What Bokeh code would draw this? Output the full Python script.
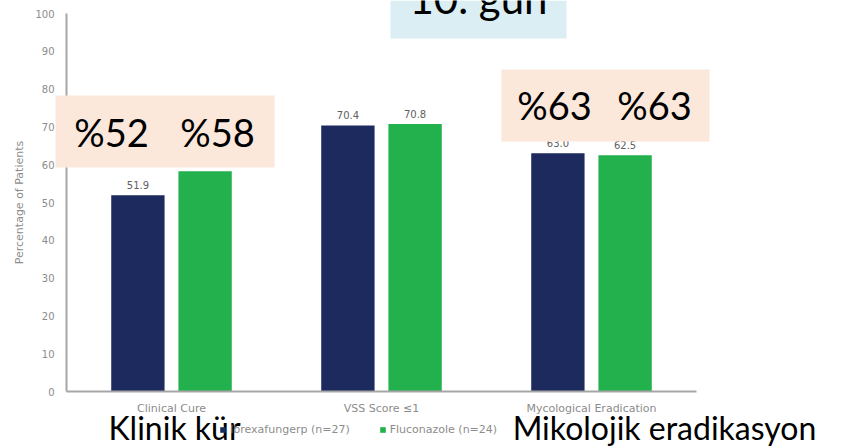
from bokeh.plotting import figure
from bokeh.models import (ColumnDataSource, Range1d, FixedTicker, Label,
                          BoxAnnotation, Legend, LegendItem)
from bokeh.transform import dodge
from bokeh.embed import file_html
from bokeh.resources import INLINE

# ---------------- data ----------------
categories = ["Clinical Cure", "VSS Score ≤1", "Mycological Eradication"]
category_pos = [0.5, 1.5, 2.5]
ibrexafungerp = [51.9, 70.4, 63.0]
fluconazole = [58.3, 70.8, 62.5]
ibrex_labels = ["51.9", "70.4", "63.0"]
fluco_labels = ["58.3", "70.8", "62.5"]
y_ticks = [0, 10, 20, 30, 40, 50, 60, 70, 80, 90, 100]
series_names = ["Ibrexafungerp (n=27)", "Fluconazole (n=24)"]
y_axis_title = "Percentage of Patients"
title_text = "10. gün"
box1_texts = ["%52", "%58"]
box2_texts = ["%63", "%63"]
caption_left = "Klinik kür"
caption_right = "Mikolojik eradikasyon"

# ---------------- layout ----------------
W, H = 850, 447
AX_L, AX_B, AX_T = 66, 391, 13        # pixel positions of x=0, y=0, y=100
UNIT_X = 210.0                        # pixels per category
UNIT_Y = (AX_B - AX_T) / 100.0        # pixels per percent
X0, X1 = -AX_L / UNIT_X, (W - AX_L) / UNIT_X
Y0, Y1 = -(H - AX_B) / UNIT_Y, 100 + AX_T / UNIT_Y
LABEL_DY_EM = 0.42                    # correction of Label's baseline placement

NAVY = "#1d2a5e"
GREEN = "#22b14c"
PEACH = "#fce8db"
BLUE = "#daeef3"
GREY = "#8c8c8c"
AXIS = "#a6a6a6"
BIG_FONT = "Lato"
SMALL_FONT = "DejaVu Sans"


def sx(cx):
    return cx


def sy(cy):
    return H - cy


source = ColumnDataSource(dict(pos=category_pos, ibrex=ibrexafungerp, fluco=fluconazole,
                               ibrex_lbl=ibrex_labels, fluco_lbl=fluco_labels))

p = figure(width=W, height=H, x_range=Range1d(X0, X1), y_range=Range1d(Y0, Y1),
           output_backend="svg", toolbar_location=None,
           min_border_left=0, min_border_top=0, min_border_right=0, min_border_bottom=0)
p.outline_line_color = None
p.xgrid.visible = False
p.ygrid.visible = False

BAR_W = 0.254
OFF = 0.16
r1 = p.vbar(x=dodge("pos", -OFF), top="ibrex", width=BAR_W, bottom=0,
            source=source, fill_color=NAVY, line_color=None)
r2 = p.vbar(x=dodge("pos", OFF), top="fluco", width=BAR_W, bottom=0,
            source=source, fill_color=GREEN, line_color=None)

for xo, col in ((-OFF, "ibrex"), (OFF, "fluco")):
    p.text(x=dodge("pos", xo), y=col, text=col + "_lbl", source=source,
           text_align="center", text_baseline="bottom", y_offset=-6,
           text_font_size="10px", text_color="#606060",
           text_font={"value": SMALL_FONT})

# axes (library axes, pinned at the data origin)
p.yaxis.fixed_location = 0
p.yaxis.bounds = (0, 100)
p.yaxis.ticker = FixedTicker(ticks=y_ticks)
p.xaxis.fixed_location = 0
p.xaxis.bounds = (0, 3)
p.xaxis.ticker = FixedTicker(ticks=category_pos)
p.xaxis.major_label_overrides = {pos: name for pos, name in zip(category_pos, categories)}
for ax in (p.xaxis[0], p.yaxis[0]):
    ax.axis_line_color = AXIS
    ax.axis_line_width = 2
    ax.major_tick_line_color = None
    ax.major_tick_out = 0
    ax.major_tick_in = 0
    ax.minor_tick_line_color = None
    ax.minor_tick_out = 0
    ax.minor_tick_in = 0
    ax.major_label_text_color = GREY
    ax.major_label_text_font = SMALL_FONT
p.yaxis.major_label_text_font_size = "10px"
p.yaxis.major_label_standoff = 12
p.yaxis.axis_label = y_axis_title
p.yaxis.axis_label_text_font = SMALL_FONT
p.yaxis.axis_label_text_font_size = "11px"
p.yaxis.axis_label_text_font_style = "normal"
p.yaxis.axis_label_text_color = GREY
p.yaxis.axis_label_standoff = 6
p.xaxis.major_label_text_font_size = "11px"
p.xaxis.major_label_standoff = 10

# legend (location = bottom-left corner)
legend = Legend(items=[LegendItem(label=series_names[0], renderers=[r1]),
                       LegendItem(label=series_names[1], renderers=[r2])],
                orientation="horizontal", location=(sx(219), sy(436)),
                glyph_width=7, glyph_height=7, label_height=12, label_standoff=4,
                spacing=29, padding=0, margin=0, border_line_color=None,
                background_fill_alpha=0, label_text_font=SMALL_FONT,
                label_text_font_size="11px", label_text_color=GREY)
p.add_layout(legend, "center")


# overlay boxes
def add_box(l, r, t, b, color):
    p.add_layout(BoxAnnotation(left=sx(l), right=sx(r), top=sy(t), bottom=sy(b),
                               left_units="screen", right_units="screen",
                               top_units="screen", bottom_units="screen",
                               fill_color=color, fill_alpha=1, line_color=None))


add_box(390, 566, 0, 38, BLUE)
add_box(55, 274, 95, 167, PEACH)
add_box(501, 709, 69, 141, PEACH)


def add_text(cx, cy, txt, size):
    p.add_layout(Label(x=sx(cx), y=sy(cy) + LABEL_DY_EM * size, x_units="screen",
                       y_units="screen", text=txt, text_font=BIG_FONT,
                       text_font_size=f"{size}px", text_color="black",
                       text_align="center", text_baseline="alphabetic"))


add_text(478, 15, title_text, 42)
add_text(111, 147, box1_texts[0], 38)
add_text(217, 147, box1_texts[1], 38)
add_text(554, 120, box2_texts[0], 38)
add_text(654, 120, box2_texts[1], 38)
add_text(174, 440, caption_left, 32)
add_text(664, 440, caption_right, 32)

open("out.html", "w").write(file_html(p, INLINE))
